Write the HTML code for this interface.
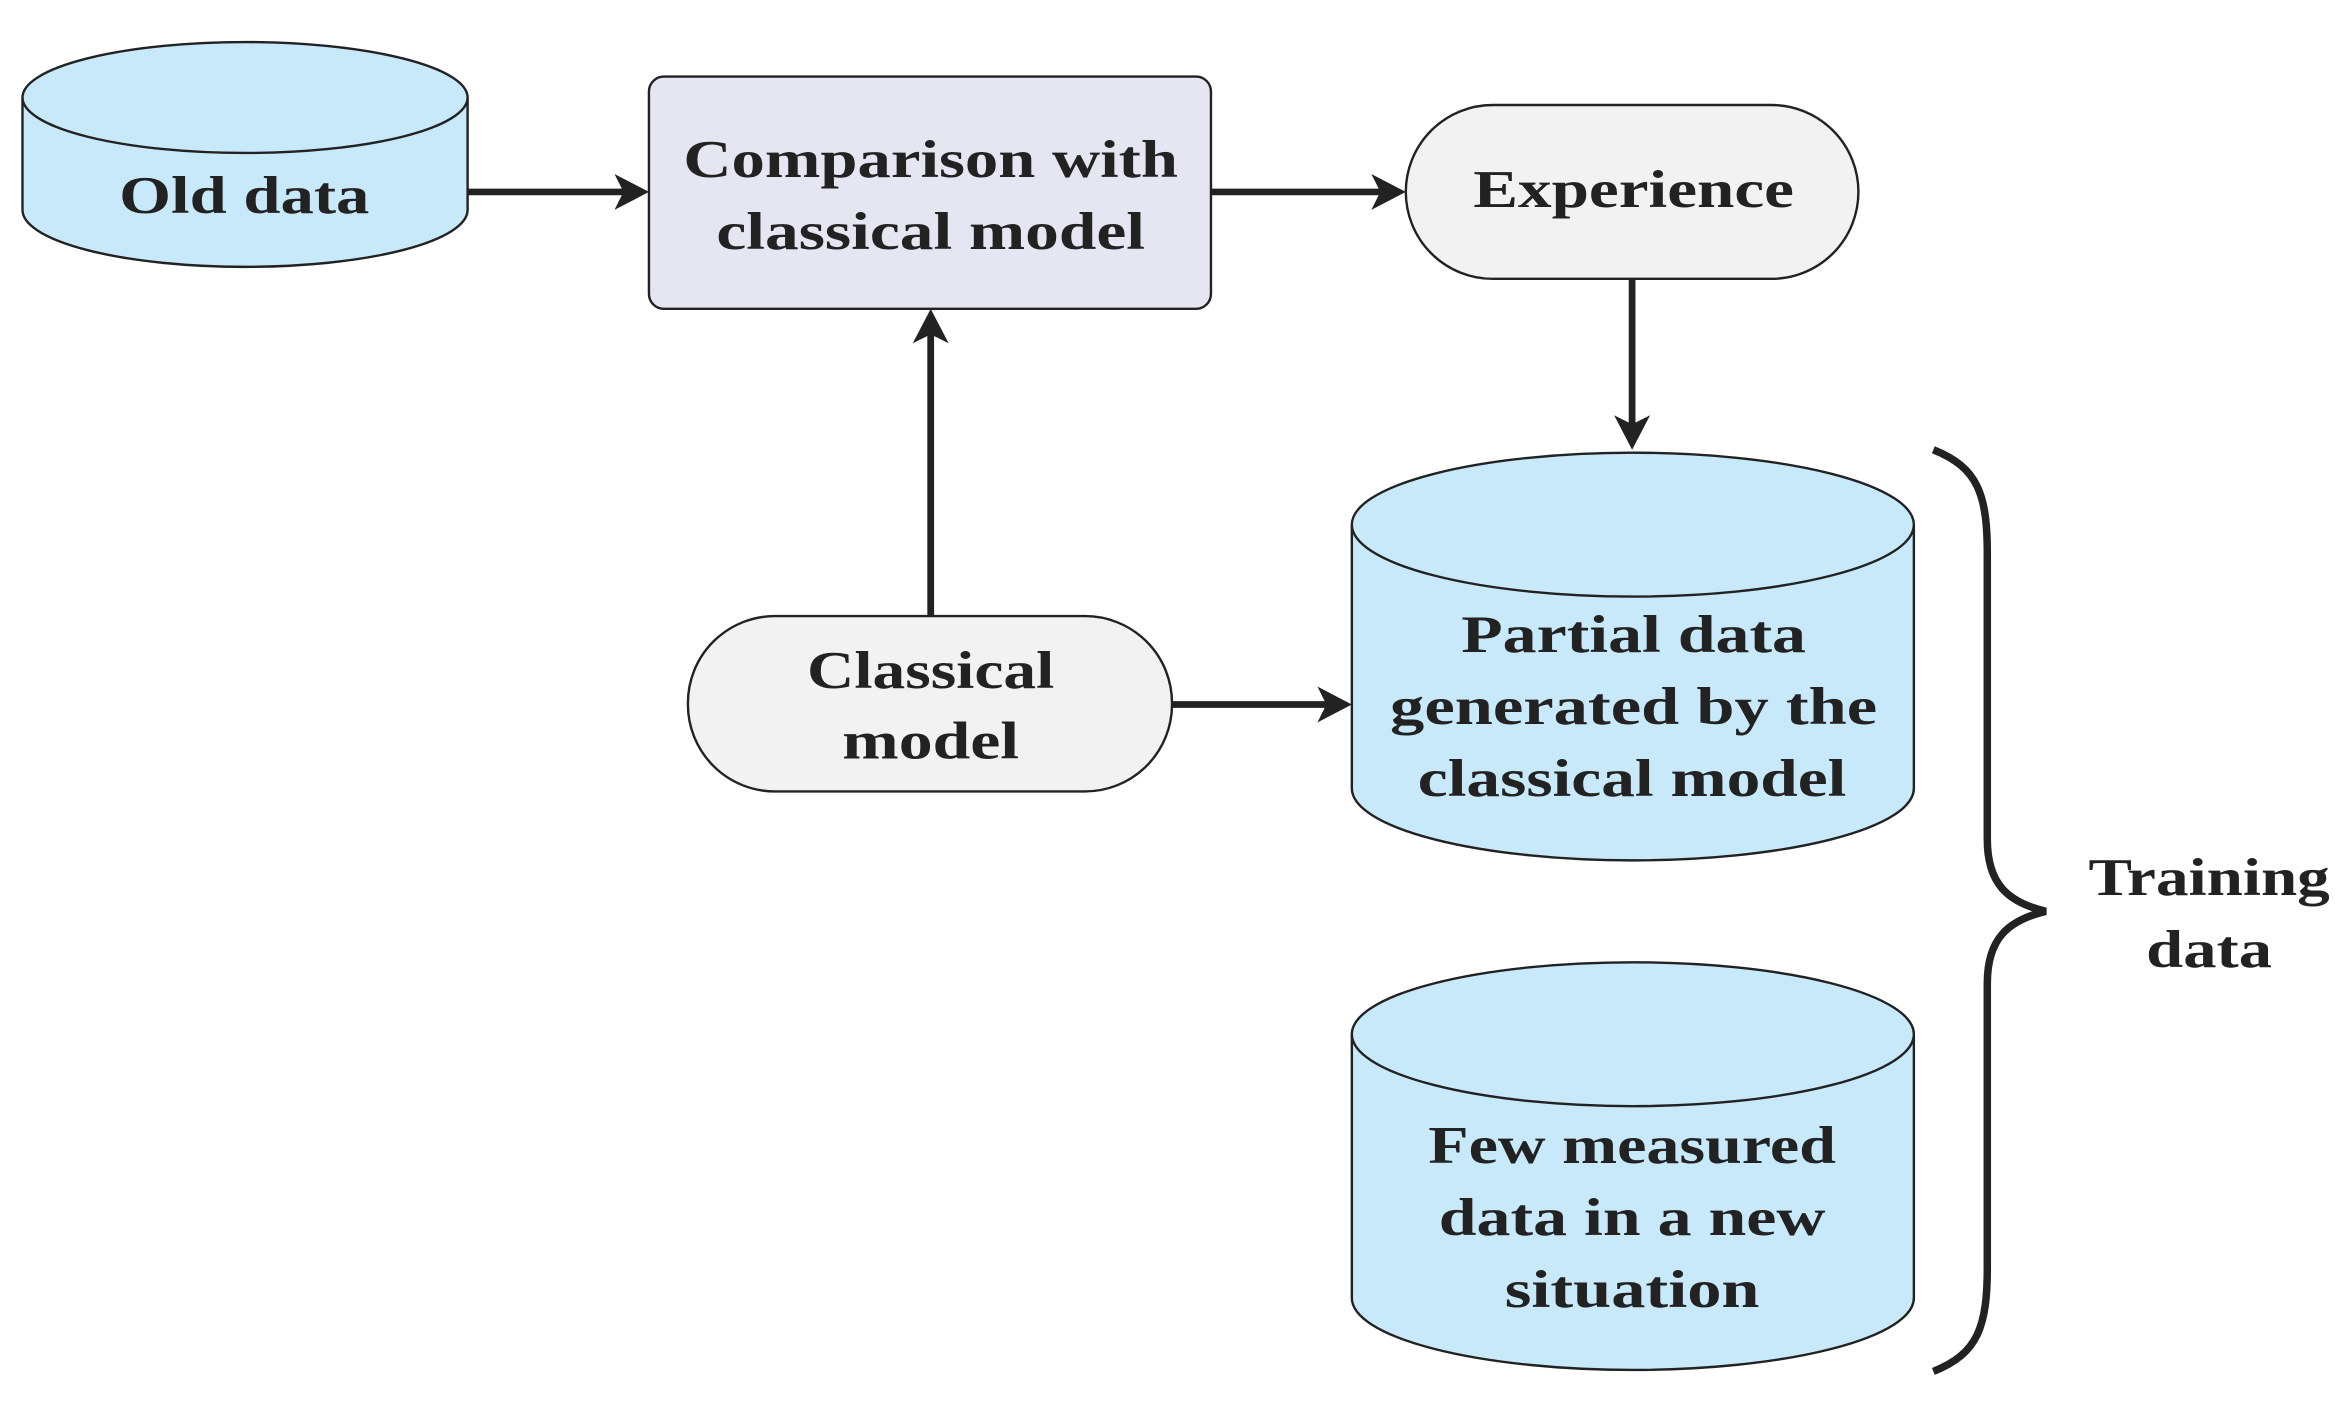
<!DOCTYPE html>
<html><head><style>
html,body{margin:0;padding:0;background:#fff;}
svg{display:block;}
text{font-family:"Liberation Serif",serif;font-weight:bold;font-size:35px;fill:#222;text-anchor:middle;}
</style></head><body>
<svg width="2344" height="1406" viewBox="0 0 1564 938" xmlns="http://www.w3.org/2000/svg">
<g stroke="#222" stroke-width="1.6">
<path d="M15,65 L15,140 A148.5,38 0 0 0 312,140 L312,65" fill="#c8e9fa"/>
<ellipse cx="163.5" cy="65" rx="148.5" ry="37" fill="#c8e9fa"/>
<rect x="433" y="51" width="375" height="155" rx="10" fill="#e6e6f2"/>
<rect x="938" y="70" width="302" height="116" rx="58" fill="#f2f2f2"/>
<rect x="459" y="411" width="323" height="117" rx="58" fill="#f2f2f2"/>
<path d="M902,350 L902,526 A187.5,48 0 0 0 1277,526 L1277,350" fill="#c8e9fa"/>
<ellipse cx="1089.5" cy="350" rx="187.5" ry="48" fill="#c8e9fa"/>
<path d="M902,690 L902,866 A187.5,48 0 0 0 1277,866 L1277,690" fill="#c8e9fa"/>
<ellipse cx="1089.5" cy="690" rx="187.5" ry="48" fill="#c8e9fa"/>
</g>
<g stroke="#222" stroke-width="4.5" fill="none">
<line x1="312" y1="128" x2="420" y2="128"/>
<line x1="808" y1="128" x2="925" y2="128"/>
<line x1="1089" y1="186" x2="1089" y2="288"/>
<line x1="621" y1="411" x2="621" y2="219"/>
<line x1="782" y1="470" x2="889" y2="470"/>
<path d="M1290,300 C1320,312 1326,330 1326,370 L1326,560 C1326,590 1340,602 1365,608 C1340,614 1326,626 1326,656 L1326,845 C1326,885 1320,903 1290,915" stroke-width="5"/>
</g>
<g fill="#222">
<path d="M433,128 L410,116 L416,128 L410,140 Z"/>
<path d="M938,128 L915,116 L921,128 L915,140 Z"/>
<path d="M1089,300 L1077,277 L1089,283 L1101,277 Z"/>
<path d="M621,206 L609,229 L621,223 L633,229 Z"/>
<path d="M902,470 L879,458 L885,470 L879,482 Z"/>
</g>
<text x="163" y="142" textLength="167" lengthAdjust="spacingAndGlyphs">Old data</text>
<text x="621" y="118" textLength="330" lengthAdjust="spacingAndGlyphs">Comparison with</text>
<text x="621" y="166" textLength="286" lengthAdjust="spacingAndGlyphs">classical model</text>
<text x="1090" y="138" textLength="214" lengthAdjust="spacingAndGlyphs">Experience</text>
<text x="621" y="459" textLength="165" lengthAdjust="spacingAndGlyphs">Classical</text>
<text x="621" y="506" textLength="118" lengthAdjust="spacingAndGlyphs">model</text>
<text x="1090" y="435" textLength="230" lengthAdjust="spacingAndGlyphs">Partial data</text>
<text x="1090" y="483" textLength="325" lengthAdjust="spacingAndGlyphs">generated by the</text>
<text x="1089" y="531" textLength="286" lengthAdjust="spacingAndGlyphs">classical model</text>
<text x="1089" y="776" textLength="272" lengthAdjust="spacingAndGlyphs">Few measured</text>
<text x="1089" y="824" textLength="258" lengthAdjust="spacingAndGlyphs">data in a new</text>
<text x="1089" y="872" textLength="170" lengthAdjust="spacingAndGlyphs">situation</text>
<text x="1474" y="597" textLength="161" lengthAdjust="spacingAndGlyphs">Training</text>
<text x="1474" y="645" textLength="84" lengthAdjust="spacingAndGlyphs">data</text>
</svg>
</body></html>
